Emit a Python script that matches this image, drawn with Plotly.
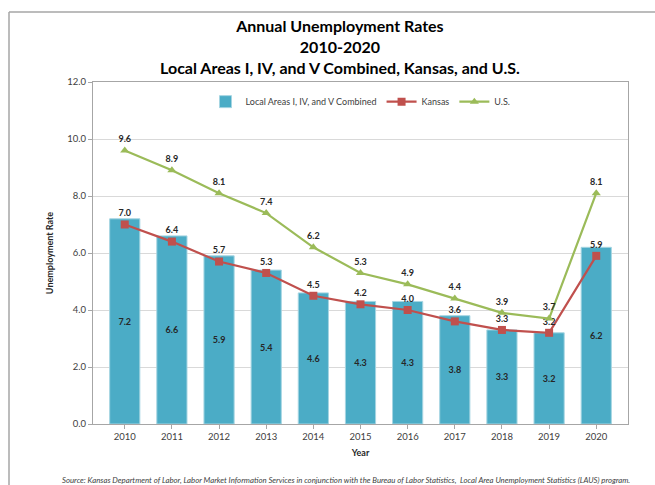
import plotly.graph_objects as go

years = ["2010", "2011", "2012", "2013", "2014", "2015", "2016", "2017", "2018", "2019", "2020"]
local_areas = [7.2, 6.6, 5.9, 5.4, 4.6, 4.3, 4.3, 3.8, 3.3, 3.2, 6.2]
kansas = [7.0, 6.4, 5.7, 5.3, 4.5, 4.2, 4.0, 3.6, 3.3, 3.2, 5.9]
us = [9.6, 8.9, 8.1, 7.4, 6.2, 5.3, 4.9, 4.4, 3.9, 3.7, 8.1]

FONT = "Lato, Open Sans, sans-serif"

fig = go.Figure()
fig.add_trace(go.Bar(
    x=years, y=local_areas, name="Local Areas I, IV, and V Combined",
    marker=dict(color="#4BACC6", line=dict(color="#A5D5E2", width=1)),
    width=0.64,
    text=[f"{v:.1f}" for v in local_areas], textposition="inside",
    insidetextanchor="middle",
    textfont=dict(size=9, color="#262626", family=FONT, weight="bold"),
))
fig.add_trace(go.Scatter(
    x=years, y=kansas, name="Kansas", mode="lines+markers+text",
    line=dict(color="#C0504D", width=2.2),
    marker=dict(symbol="square", size=8, color="#C0504D"),
    text=[f"{v:.1f}" for v in kansas], textposition="top center",
    textfont=dict(size=9, color="#262626", family=FONT, weight="bold"),
))
fig.add_trace(go.Scatter(
    x=years, y=us, name="U.S.", mode="lines+markers+text",
    line=dict(color="#9BBB59", width=2.2),
    marker=dict(symbol="triangle-up", size=8, color="#9BBB59"),
    text=[f"{v:.1f}" for v in us], textposition="top center",
    textfont=dict(size=9, color="#262626", family=FONT, weight="bold"),
))

fig.update_layout(
    width=655, height=485,
    margin=dict(l=93, r=27, t=82, b=61),
    paper_bgcolor="white", plot_bgcolor="white",
    font=dict(family=FONT, size=9.5, color="#404040"),
    title=dict(
        text="Annual Unemployment Rates<br>2010-2020<br>Local Areas I, IV, and V Combined, Kansas, and U.S.",
        x=0.519, xanchor="center", y=0.934, yanchor="top",
        font=dict(size=16, color="black", family=FONT, weight="bold"),
    ),
    showlegend=True,
    legend=dict(orientation="h", x=0.5, xanchor="center", y=0.985, yanchor="top",
                font=dict(size=9, color="#404040"), bgcolor="rgba(0,0,0,0)",
                traceorder="normal", itemwidth=30),
    shapes=[
        dict(type="line", xref="paper", yref="paper", x0=-0.157, x1=1.1, y0=1.205, y1=1.205,
             line=dict(color="#A6A6A6", width=1.5)),
        dict(type="line", xref="paper", yref="paper", x0=-0.157, x1=-0.157, y0=1.205, y1=-0.3,
             line=dict(color="#A6A6A6", width=1.5)),
    ],
    annotations=[
        dict(text="<i>Source: Kansas Department of Labor, Labor Market Information Services in conjunction with the Bureau of Labor Statistics,  Local Area Unemployment Statistics (LAUS) program.</i>",
             xref="paper", yref="paper", x=0.473, y=-0.165, xanchor="center", yanchor="middle",
             showarrow=False, font=dict(size=7.8, color="#404040")),
    ],
)
fig.update_yaxes(
    range=[0, 12], dtick=2, tickformat=".1f",
    showgrid=True, gridcolor="#D9D9D9", gridwidth=1,
    showline=True, linecolor="#A6A6A6", mirror=True,
    ticks="outside", tickcolor="#A6A6A6", ticklen=4,
    title=dict(text="<b>Unemployment Rate</b>", font=dict(size=9, color="#262626"), standoff=12),
    zeroline=False,
)
fig.update_xaxes(
    showline=True, linecolor="#A6A6A6", mirror=True,
    ticks="outside", tickcolor="#A6A6A6", ticklen=4,
    title=dict(text="<b>Year</b>", font=dict(size=9, color="#262626"), standoff=8),
)

fig.write_html("out.html")
